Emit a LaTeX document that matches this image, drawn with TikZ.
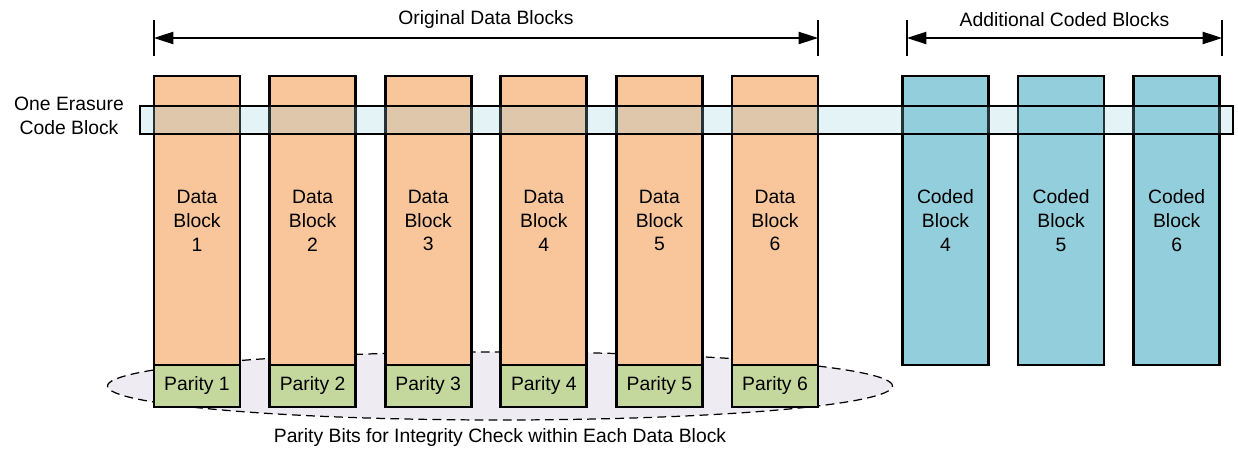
\documentclass[tikz,border=0pt]{standalone}
\usepackage{fontspec}
\setmainfont{Liberation Sans}
\usetikzlibrary{positioning, arrows.meta, shapes.geometric}

\definecolor{dataorange}{HTML}{F9C59B}
\definecolor{codedblue}{HTML}{93CEDC}
\definecolor{paritygreen}{HTML}{C4D79C}
\definecolor{ovalgrey}{HTML}{EEEBF3}

\tikzset{
  datablk/.style={draw, line width=1.5pt, fill=dataorange, minimum width=1.72cm,
    minimum height=5.78cm, inner sep=0pt, outer sep=0pt, align=center},
  codedblk/.style={datablk, fill=codedblue},
  paritybox/.style={draw, line width=1.5pt, fill=paritygreen, minimum width=1.72cm,
    minimum height=0.84cm, inner sep=0pt, outer sep=0pt},
  dimline/.style={line width=0.7pt, {Triangle[length=11pt,width=7pt]}-{Triangle[length=11pt,width=7pt]}},
  tick/.style={line width=0.9pt}
}

\begin{document}
\begin{tikzpicture}[font=\fontsize{11pt}{13.6pt}\selectfont]
\useasboundingbox (0,0) rectangle (24.76,9.06);

% --- dashed oval behind the parity row ---
\node[draw, dash pattern=on 5pt off 3pt, line width=0.7pt, fill=ovalgrey, ellipse,
  minimum width=15.7cm, minimum height=1.36cm, inner sep=0pt] (oval) at (10.0,1.34) {};
\node (paritytxt) at (10.0,0.30) {Parity Bits for Integrity Check within Each Data Block};

% --- original data blocks with parity ---
\foreach \i in {1,...,6}{
  \node[datablk] (d\i) at ({3.94+2.312*(\i-1)},4.65) {Data\\Block\\\i};
  \node[paritybox, below=0pt of d\i] (p\i) {Parity \i};
}

% --- additional coded blocks ---
\foreach \j in {4,5,6}{
  \node[codedblk] (c\j) at ({18.91+2.312*(\j-4)},4.65) {Coded\\Block\\\j};
}

% --- one erasure code block across all blocks ---
\node[draw, line width=1.1pt, fill=codedblue, fill opacity=0.25, minimum width=21.86cm,
  minimum height=0.56cm, inner sep=0pt, anchor=west] (strip) at (2.78,6.66) {};
\node[align=center] (striptxt) at (1.38,6.74) {One Erasure\\Code Block};

% --- dimension arrows on top ---
\coordinate (oa) at (3.08,8.30);
\coordinate (ob) at (16.36,8.30);
\coordinate (aa) at (18.14,8.30);
\coordinate (ab) at (24.44,8.30);
\foreach \c in {oa,ob,aa,ab}{
  \draw[tick] ([yshift=0.36cm]\c) -- ([yshift=-0.36cm]\c);
}
\draw[dimline] (oa) -- (ob);
\draw[dimline] (aa) -- (ab);
\node (origtxt) at (9.72,8.66) {Original Data Blocks};
\node (addtxt) at (21.29,8.66) {Additional Coded Blocks};
\end{tikzpicture}
\end{document}
